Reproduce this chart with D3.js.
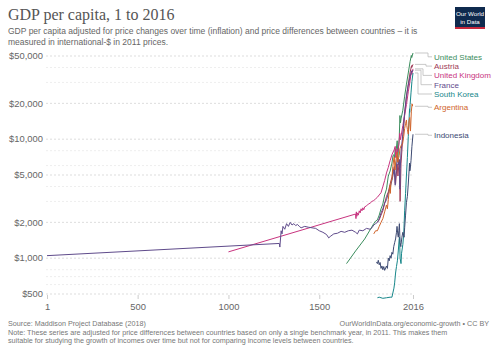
<!DOCTYPE html>
<html>
<head>
<meta charset="utf-8">
<script src="https://cdn.jsdelivr.net/npm/d3@7"></script>
<style>
  body { margin: 0; background: #fff; }
  svg { display: block; font-family: "Liberation Sans", Arial, sans-serif; }
</style>
</head>
<body>
<div id="wrapper"></div>
<script>
// series: [year, GDP per capita in 2011 int-$]
const unitedStates = [[1650, 900], [1700, 1150], [1750, 1450], [1800, 1950], [1810, 2050], [1820, 2100], [1830, 2300], [1840, 2600], [1850, 2850], [1860, 3400], [1870, 3800], [1880, 4900], [1890, 5400], [1900, 6300], [1906, 7300], [1910, 7400], [1914, 7000], [1918, 8300], [1921, 7500], [1929, 9700], [1933, 7000], [1937, 8900], [1940, 9900], [1944, 15800], [1947, 13700], [1950, 14800], [1960, 17500], [1970, 23000], [1980, 29000], [1990, 36000], [2000, 45000], [2007, 50500], [2009, 48500], [2016, 53000]];
const austria = [[1820, 2000], [1830, 2100], [1840, 2300], [1850, 2500], [1860, 2900], [1870, 3300], [1880, 3600], [1890, 4200], [1900, 4800], [1913, 5900], [1918, 4300], [1920, 4200], [1929, 6200], [1933, 4900], [1938, 6100], [1941, 6700], [1945, 3000], [1947, 3900], [1950, 6200], [1960, 10500], [1970, 16000], [1980, 23000], [1990, 29000], [2000, 36500], [2008, 41500], [2009, 40000], [2016, 42500]];
const unitedKingdom = [[1000, 1130], [1700, 2350], [1702, 2150], [1704, 2450], [1707, 2250], [1710, 2400], [1715, 2300], [1720, 2500], [1725, 2400], [1730, 2600], [1735, 2500], [1740, 2650], [1745, 2550], [1750, 2700], [1760, 2750], [1770, 2850], [1780, 2900], [1790, 3000], [1800, 3050], [1810, 3150], [1820, 3250], [1830, 3400], [1840, 3550], [1850, 4000], [1860, 4500], [1870, 5200], [1880, 5800], [1890, 6600], [1900, 7400], [1913, 8200], [1918, 8700], [1921, 7000], [1929, 8300], [1931, 7700], [1938, 9000], [1943, 11200], [1947, 9900], [1950, 10500], [1960, 13000], [1970, 16000], [1980, 19500], [1990, 25000], [2000, 31000], [2007, 37500], [2009, 35000], [2016, 39000]];
const france = [[1, 1050], [1280, 1330], [1283, 1240], [1290, 1700], [1295, 1600], [1300, 1850], [1310, 1750], [1320, 1950], [1330, 1850], [1340, 2000], [1350, 1900], [1360, 1950], [1370, 1880], [1380, 1920], [1390, 1850], [1400, 1800], [1420, 1850], [1440, 1820], [1460, 1800], [1480, 1780], [1500, 1700], [1520, 1650], [1540, 1580], [1552, 1480], [1560, 1520], [1580, 1600], [1600, 1620], [1620, 1680], [1640, 1650], [1660, 1700], [1680, 1720], [1700, 1650], [1710, 1600], [1720, 1720], [1740, 1700], [1760, 1780], [1780, 1750], [1790, 1800], [1800, 1900], [1810, 1950], [1820, 2000], [1830, 2150], [1840, 2400], [1850, 2600], [1860, 2900], [1870, 3100], [1880, 3500], [1890, 3900], [1900, 4500], [1913, 5600], [1918, 4100], [1920, 4800], [1929, 7000], [1936, 6100], [1939, 6800], [1944, 3800], [1946, 5700], [1950, 7800], [1960, 11000], [1970, 17000], [1980, 23000], [1990, 28500], [2000, 33500], [2008, 37500], [2009, 36500], [2016, 38000]];
const southKorea = [[1820, 465], [1830, 470], [1850, 460], [1870, 465], [1890, 470], [1900, 470], [1911, 560], [1915, 620], [1920, 750], [1925, 850], [1930, 950], [1935, 1150], [1940, 1450], [1942, 1500], [1945, 1000], [1950, 900], [1953, 1100], [1960, 1300], [1965, 1600], [1970, 2500], [1975, 3500], [1980, 5000], [1985, 7000], [1990, 10500], [1997, 18000], [1998, 16800], [2000, 19500], [2005, 24500], [2010, 30500], [2016, 36000]];
const argentina = [[1800, 1600], [1810, 1700], [1820, 1700], [1830, 1850], [1840, 2000], [1850, 2150], [1860, 2450], [1870, 2800], [1875, 2600], [1880, 3100], [1885, 3700], [1890, 4100], [1891, 3500], [1895, 4400], [1900, 4600], [1905, 5900], [1910, 6800], [1913, 7100], [1917, 5500], [1920, 6300], [1929, 7800], [1932, 6400], [1940, 7300], [1944, 8300], [1950, 8800], [1959, 9200], [1965, 10600], [1970, 12300], [1975, 13500], [1980, 14500], [1982, 13000], [1985, 12100], [1990, 11000], [1994, 14300], [1998, 15200], [2002, 11700], [2007, 17200], [2011, 19800], [2014, 19000], [2016, 18900]];
const indonesia = [[1815, 930], [1820, 900], [1825, 960], [1830, 880], [1835, 920], [1840, 820], [1845, 860], [1850, 800], [1855, 850], [1860, 790], [1870, 860], [1875, 820], [1880, 1000], [1885, 950], [1890, 1050], [1895, 1000], [1900, 1120], [1905, 1080], [1910, 1250], [1915, 1350], [1920, 1450], [1925, 1650], [1928, 1850], [1932, 1600], [1935, 1500], [1938, 1700], [1941, 1950], [1945, 1350], [1949, 1250], [1950, 1300], [1955, 1500], [1960, 1650], [1965, 1550], [1967, 1500], [1970, 1800], [1975, 2300], [1980, 2950], [1985, 3300], [1990, 4200], [1997, 6300], [1998, 5400], [2000, 5500], [2005, 6600], [2010, 8700], [2016, 11000]];

const countryNames = ["United States", "Austria", "United Kingdom", "France", "South Korea", "Argentina", "Indonesia"];
const countryData = [unitedStates, austria, unitedKingdom, france, southKorea, argentina, indonesia];
const countryColors = ["#3b8d5d", "#a03b57", "#c8347f", "#5f4b8b", "#17878a", "#d0642b", "#3d4a72"];

const yTicks = [500, 1000, 2000, 5000, 10000, 20000, 50000];
const yMinorTicks = [600, 700, 800, 3000, 4000, 6000, 8000, 30000, 40000];
const xTicks = [1, 500, 1000, 1500, 2016];

function buildChart() {
    const dimension = {
        width: 500,
        height: 353,
        margin: { top: 56, left: 47, bottom: 59, right: 87 }
    };
    dimension.boundedWidth = dimension.width - dimension.margin.left - dimension.margin.right;
    dimension.boundedHeight = dimension.height - dimension.margin.top - dimension.margin.bottom;

    const svg = d3.select("#wrapper").append("svg")
        .attr("width", dimension.width)
        .attr("height", dimension.height);

    svg.append("rect").attr("width", dimension.width).attr("height", dimension.height).attr("fill", "#fff");

    const xScaler = d3.scaleLinear()
        .domain([1, 2016])
        .range([dimension.margin.left, dimension.margin.left + dimension.boundedWidth]);

    const yScaler = d3.scaleLog()
        .domain([500, 50000])
        .range([dimension.margin.top + dimension.boundedHeight, dimension.margin.top]);

    //header
    svg.append("text")
        .attr("x", 8).attr("y", 20)
        .style("font-family", "'Liberation Serif', 'DejaVu Serif', serif")
        .style("font-size", "16px")
        .attr("fill", "#555")
        .text("GDP per capita, 1 to 2016");

    const sub = svg.append("text")
        .attr("x", 8).attr("y", 33.5)
        .style("font-size", "8.5px")
        .attr("fill", "#666");
    sub.append("tspan").attr("x", 8).text("GDP per capita adjusted for price changes over time (inflation) and price differences between countries \u2013 it is");
    sub.append("tspan").attr("x", 8).attr("dy", 11).text("measured in international-$ in 2011 prices.");

    //logo
    const logo = svg.append("g").attr("transform", "translate(455,7)");
    logo.append("rect").attr("width", 30).attr("height", 22).attr("fill", "#0f2a4e");
    logo.append("rect").attr("y", 20).attr("width", 30).attr("height", 2).attr("fill", "#c8283c");
    logo.append("text").attr("x", 15).attr("y", 9).attr("text-anchor", "middle")
        .style("font-size", "6.2px").attr("fill", "#fff").text("Our World");
    logo.append("text").attr("x", 15).attr("y", 16.5).attr("text-anchor", "middle")
        .style("font-size", "6.2px").attr("fill", "#fff").text("in Data");

    //grid
    const x0 = xScaler.range()[0] - 1;
    const x1 = xScaler.range()[1];
    svg.append("g").selectAll("line")
        .data(yMinorTicks)
        .enter().append("line")
        .attr("x1", x0).attr("x2", x1)
        .attr("y1", d => yScaler(d)).attr("y2", d => yScaler(d))
        .attr("stroke", "#eee")
        .attr("stroke-dasharray", "2,2");

    svg.append("g").selectAll("line")
        .data(yTicks)
        .enter().append("line")
        .attr("x1", x0).attr("x2", x1)
        .attr("y1", d => yScaler(d)).attr("y2", d => yScaler(d))
        .attr("stroke", "#ddd")
        .attr("stroke-dasharray", "2,2");

    svg.append("g").selectAll("text")
        .data(yTicks)
        .enter().append("text")
        .attr("x", 43)
        .attr("y", d => yScaler(d))
        .attr("dy", "0.35em")
        .attr("text-anchor", "end")
        .style("font-size", "9.4px")
        .attr("fill", "#666")
        .text(d => "$" + d3.format(",")(d));

    //x axis
    const xAxis = svg.append("g")
        .attr("transform", `translate(0,${yScaler(500) + 1})`)
        .call(d3.axisBottom(xScaler).tickValues(xTicks).tickFormat(d3.format("d")).tickSize(4).tickPadding(4));
    xAxis.select(".domain").remove();
    xAxis.selectAll("line").attr("stroke", "#ccc");
    xAxis.selectAll("text").style("font-size", "9.4px").attr("fill", "#666").style("font-family", "'Liberation Sans', Arial, sans-serif");

    //lines
    const line = d3.line()
        .x(d => xScaler(d[0]))
        .y(d => yScaler(d[1]));

    svg.append("g").selectAll("path")
        .data(countryData)
        .enter().append("path")
        .attr("d", line)
        .attr("fill", "none")
        .attr("stroke", (d, i) => countryColors[i])
        .attr("stroke-width", 1)
        .attr("stroke-linejoin", "round");

    //labels with connectors
    let prev = 47.5;
    const labelX = 434;
    const elbows = [428, 426, 423, 421, 418, 428, 428];
    countryData.forEach((series, i) => {
        const last = series[series.length - 1];
        const endY = yScaler(last[1]);
        const labelY = Math.max(endY + 1, prev + 9.3);
        prev = labelY;
        svg.append("path")
            .attr("d", `M${xScaler(last[0]) + 2},${endY}H${elbows[i]}V${labelY}H${labelX - 2}`)
            .attr("fill", "none")
            .attr("stroke", "#bbb")
            .attr("stroke-width", 0.8);
        svg.append("text")
            .attr("x", labelX)
            .attr("y", labelY)
            .attr("dy", "0.35em")
            .style("font-size", "8px")
            .attr("fill", countryColors[i])
            .text(countryNames[i]);
    });

    //footer
    svg.append("text")
        .attr("x", 8).attr("y", 325.5)
        .style("font-size", "7.2px").attr("fill", "#777")
        .text("Source: Maddison Project Database (2018)");
    svg.append("text")
        .attr("x", 489).attr("y", 325.5)
        .attr("text-anchor", "end")
        .style("font-size", "7.2px").attr("fill", "#777")
        .text("OurWorldInData.org/economic-growth \u2022 CC BY");
    const note = svg.append("text")
        .attr("x", 8).attr("y", 335)
        .style("font-size", "7.2px").attr("fill", "#777");
    note.append("tspan").attr("x", 8).text("Note: These series are adjusted for price differences between countries based on only a single benchmark year, in 2011. This makes them");
    note.append("tspan").attr("x", 8).attr("dy", 8.3).text("suitable for studying the growth of incomes over time but not for comparing income levels between countries.");
}

buildChart()
</script>
</body>
</html>
